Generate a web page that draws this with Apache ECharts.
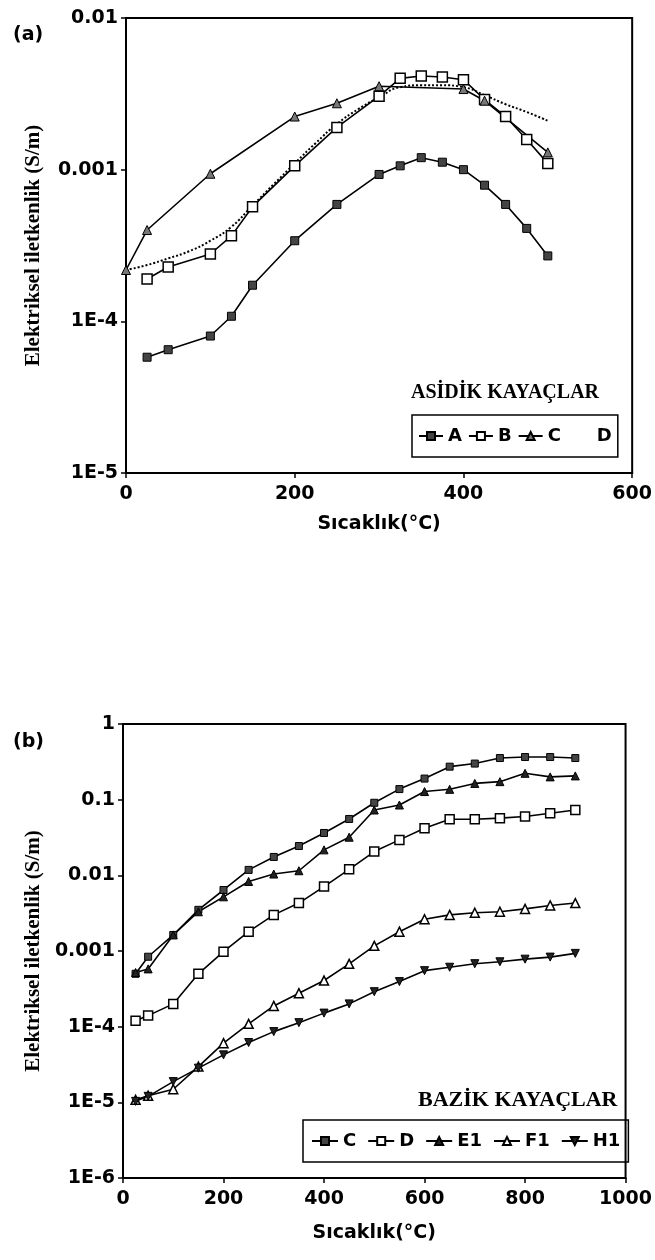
<!DOCTYPE html>
<html>
<head>
<meta charset="utf-8">
<script src="https://cdn.jsdelivr.net/npm/echarts@6/dist/echarts.min.js"></script>
<style>
  html, body { margin: 0; padding: 0; background: #fff; }
  #main { width: 655px; height: 1260px; }
</style>
</head>
<body>
<div id="main"></div>
<script>
// (a) asidik kayaclar
const aX = [25, 50, 100, 125, 150, 200, 250, 300, 325, 350, 375, 400, 425, 450, 475, 500];
const aY = [5.8e-5, 6.5e-5, 8.0e-5, 1.08e-4, 1.73e-4, 3.4e-4, 5.9e-4, 9.3e-4, 1.06e-3, 1.2e-3, 1.12e-3, 1.0e-3, 7.9e-4, 5.9e-4, 4.1e-4, 2.7e-4];
const bX = [25, 50, 100, 125, 150, 200, 250, 300, 325, 350, 375, 400, 425, 450, 475, 500];
const bY = [1.9e-4, 2.28e-4, 2.78e-4, 3.66e-4, 5.7e-4, 1.06e-3, 1.9e-3, 3.05e-3, 4.0e-3, 4.15e-3, 4.08e-3, 3.92e-3, 2.9e-3, 2.24e-3, 1.58e-3, 1.1e-3];
const cX = [0, 25, 100, 200, 250, 300, 400, 425, 500];
const cY = [2.18e-4, 4.0e-4, 9.4e-4, 2.24e-3, 2.74e-3, 3.55e-3, 3.4e-3, 2.85e-3, 1.3e-3];
const dX = [0, 25, 50, 75, 100, 125, 150, 175, 200, 225, 250, 275, 300, 325, 350, 375, 400, 425, 450, 475, 500];
const dY = [2.18e-4, 2.35e-4, 2.6e-4, 2.9e-4, 3.4e-4, 4.2e-4, 5.8e-4, 8.0e-4, 1.1e-3, 1.5e-3, 2.0e-3, 2.5e-3, 3.0e-3, 3.5e-3, 3.6e-3, 3.6e-3, 3.5e-3, 3.1e-3, 2.7e-3, 2.4e-3, 2.1e-3];

// (b) bazik kayaclar
const tX = [25, 50, 100, 150, 200, 250, 300, 350, 400, 450, 500, 550, 600, 650, 700, 750, 800, 850, 900];
const c2Y = [5.0e-4, 8.4e-4, 1.63e-3, 3.5e-3, 6.4e-3, 0.0118, 0.0175, 0.0244, 0.0363, 0.0556, 0.091, 0.138, 0.19, 0.273, 0.30, 0.355, 0.366, 0.366, 0.355];
const d2Y = [1.2e-4, 1.4e-4, 2.0e-4, 5.0e-4, 9.8e-4, 1.8e-3, 3.0e-3, 4.3e-3, 7.1e-3, 0.012, 0.0206, 0.0294, 0.042, 0.055, 0.055, 0.057, 0.060, 0.066, 0.073];
const e1Y = [5.2e-4, 5.8e-4, 1.63e-3, 3.3e-3, 5.2e-3, 8.3e-3, 0.0104, 0.0115, 0.0217, 0.0319, 0.073, 0.085, 0.128, 0.137, 0.164, 0.173, 0.223, 0.20, 0.206];
const f1Y = [1.08e-5, 1.22e-5, 1.49e-5, 2.97e-5, 6.05e-5, 1.09e-4, 1.88e-4, 2.77e-4, 4.07e-4, 6.76e-4, 1.17e-3, 1.8e-3, 2.63e-3, 3.0e-3, 3.2e-3, 3.3e-3, 3.6e-3, 4.0e-3, 4.3e-3];
const h1Y = [1.03e-5, 1.2e-5, 1.88e-5, 2.83e-5, 4.24e-5, 6.17e-5, 8.6e-5, 1.13e-4, 1.51e-4, 2.0e-4, 2.9e-4, 3.94e-4, 5.5e-4, 6.1e-4, 6.8e-4, 7.2e-4, 7.8e-4, 8.3e-4, 9.3e-4];

// tick labels
const topXTicks = [0, 200, 400, 600];
const topXLabels = ['0', '200', '400', '600'];
const botXTicks = [0, 200, 400, 600, 800, 1000];
const botXLabels = ['0', '200', '400', '600', '800', '1000'];
const topYTicks = [1e-5, 1e-4, 1e-3, 1e-2];
const topYLabels = ['1E-5', '1E-4', '0.001', '0.01'];
const botYTicks = [1e-6, 1e-5, 1e-4, 1e-3, 1e-2, 1e-1, 1];
const botYLabels = ['1E-6', '1E-5', '1E-4', '0.001', '0.01', '0.1', '1'];

const zip = (xs, ys) => xs.map((x, i) => [x, ys[i]]);
const linLabel = (ticks, labels) => v => {
  const i = ticks.findIndex(t => Math.abs(t - v) < 1e-6);
  return i < 0 ? '' : labels[i];
};
const logLabel = (ticks, labels) => v => {
  const e = Math.round(Math.log10(v));
  const i = ticks.findIndex(t => Math.round(Math.log10(t)) === e);
  return i < 0 ? '' : labels[i];
};

const tickFont = { fontFamily: 'DejaVu Sans', fontWeight: 'bold', fontSize: 19, color: '#000' };
const legendFont = { fontFamily: 'DejaVu Sans', fontWeight: 'bold', fontSize: 18, color: '#000' };
const yName = 'Elektriksel iletkenlik (S/m)';
const yNameStyle = { fontFamily: 'Liberation Serif', fontWeight: 'bold', fontSize: 21, color: '#000' };
const xName = 'Sıcaklık(°C)';
const axisLine = { show: true, lineStyle: { color: '#000', width: 2 } };
const axisTick = { show: true, length: 5, lineStyle: { color: '#000', width: 1.5 } };
const black = { color: '#000', width: 1.6 };

const legendNames = { Cb: 'C', Db: 'D' };

const chart = echarts.init(document.getElementById('main'));
chart.setOption({
  animation: false,
  backgroundColor: '#fff',
  title: [
    { text: '(a)', left: 8, top: 21, textStyle: { fontFamily: 'DejaVu Sans', fontWeight: 'bold', fontSize: 19, color: '#000' } },
    { text: '(b)', left: 8, top: 728, textStyle: { fontFamily: 'DejaVu Sans', fontWeight: 'bold', fontSize: 19, color: '#000' } },
    { text: 'ASİDİK KAYAÇLAR', left: 406, top: 378, textStyle: { fontFamily: 'Liberation Serif', fontWeight: 'bold', fontSize: 20, color: '#000' } },
    { text: 'BAZİK KAYAÇLAR', left: 413, top: 1084, textStyle: { fontFamily: 'Liberation Serif', fontWeight: 'bold', fontSize: 22, color: '#000' } }
  ],
  grid: [
    { left: 126, right: 15, top: 18, height: 455, show: true, borderColor: '#000', borderWidth: 2 },
    { left: 123, right: 15, top: 724, height: 454, show: true, borderColor: '#000', borderWidth: 2 }
  ],
  legend: [
    {
      left: 412, top: 415, padding: [12, 6], itemWidth: 24, itemHeight: 10, itemGap: 6,
      borderColor: '#000', borderWidth: 1.5, textStyle: legendFont,
      data: ['A', 'B', 'C', { name: 'D', lineStyle: { opacity: 0 }, itemStyle: { opacity: 0 } }]
    },
    {
      left: 303, top: 1120, padding: [12, 8], itemWidth: 26, itemHeight: 10, itemGap: 11,
      borderColor: '#000', borderWidth: 1.5, textStyle: legendFont,
      formatter: n => legendNames[n] || n,
      data: ['Cb', 'Db', 'E1', 'F1', 'H1']
    }
  ],
  xAxis: [
    {
      gridIndex: 0, type: 'value', min: 0, max: 600, interval: 200,
      axisLine, axisTick, splitLine: { show: false },
      axisLabel: Object.assign({ margin: 12, formatter: linLabel(topXTicks, topXLabels) }, tickFont),
      name: xName, nameLocation: 'middle', nameGap: 42, nameTextStyle: tickFont
    },
    {
      gridIndex: 1, type: 'value', min: 0, max: 1000, interval: 200,
      axisLine, axisTick, splitLine: { show: false },
      axisLabel: Object.assign({ margin: 12, formatter: linLabel(botXTicks, botXLabels) }, tickFont),
      name: xName, nameLocation: 'middle', nameGap: 46, nameTextStyle: tickFont
    }
  ],
  yAxis: [
    {
      gridIndex: 0, type: 'log', logBase: 10, min: 1e-5, max: 1e-2, interval: 1,
      axisLine, axisTick, splitLine: { show: false },
      axisLabel: Object.assign({ margin: 8, formatter: logLabel(topYTicks, topYLabels) }, tickFont),
      name: yName, nameLocation: 'middle', nameRotate: 90, nameGap: 82, nameTextStyle: yNameStyle
    },
    {
      gridIndex: 1, type: 'log', logBase: 10, min: 1e-6, max: 1, interval: 1,
      axisLine, axisTick, splitLine: { show: false },
      axisLabel: Object.assign({ margin: 8, formatter: logLabel(botYTicks, botYLabels) }, tickFont),
      name: yName, nameLocation: 'middle', nameRotate: 90, nameGap: 79, nameTextStyle: yNameStyle
    }
  ],
  series: [
    { name: 'A', type: 'line', xAxisIndex: 0, yAxisIndex: 0, data: zip(aX, aY), showAllSymbol: true,
      symbol: 'rect', symbolSize: 8, lineStyle: black, itemStyle: { color: '#444', borderColor: '#000', borderWidth: 1 } },
    { name: 'B', type: 'line', xAxisIndex: 0, yAxisIndex: 0, data: zip(bX, bY), showAllSymbol: true,
      symbol: 'rect', symbolSize: 10, lineStyle: black, itemStyle: { color: '#fff', borderColor: '#000', borderWidth: 1.5 } },
    { name: 'C', type: 'line', xAxisIndex: 0, yAxisIndex: 0, data: zip(cX, cY), showAllSymbol: true,
      symbol: 'triangle', symbolSize: 9, lineStyle: black, itemStyle: { color: '#777', borderColor: '#000', borderWidth: 1 } },
    { name: 'D', type: 'line', xAxisIndex: 0, yAxisIndex: 0, data: zip(dX, dY), smooth: true,
      symbol: 'none', lineStyle: { color: '#000', width: 2, type: 'dotted' }, itemStyle: { color: '#000' } },

    { name: 'Cb', type: 'line', xAxisIndex: 1, yAxisIndex: 1, data: zip(tX, c2Y), showAllSymbol: true,
      symbol: 'rect', symbolSize: 7, lineStyle: black, itemStyle: { color: '#444', borderColor: '#000', borderWidth: 1 } },
    { name: 'Db', type: 'line', xAxisIndex: 1, yAxisIndex: 1, data: zip(tX, d2Y), showAllSymbol: true,
      symbol: 'rect', symbolSize: 9, lineStyle: black, itemStyle: { color: '#fff', borderColor: '#000', borderWidth: 1.5 } },
    { name: 'E1', type: 'line', xAxisIndex: 1, yAxisIndex: 1, data: zip(tX, e1Y), showAllSymbol: true,
      symbol: 'triangle', symbolSize: 8, lineStyle: black, itemStyle: { color: '#222', borderColor: '#000', borderWidth: 1 } },
    { name: 'F1', type: 'line', xAxisIndex: 1, yAxisIndex: 1, data: zip(tX, f1Y), showAllSymbol: true,
      symbol: 'triangle', symbolSize: 9, lineStyle: black, itemStyle: { color: '#fff', borderColor: '#000', borderWidth: 1.5 } },
    { name: 'H1', type: 'line', xAxisIndex: 1, yAxisIndex: 1, data: zip(tX, h1Y), showAllSymbol: true,
      symbol: 'triangle', symbolRotate: 180, symbolSize: 8, lineStyle: black, itemStyle: { color: '#222', borderColor: '#000', borderWidth: 1 } }
  ]
});
</script>
</body>
</html>
